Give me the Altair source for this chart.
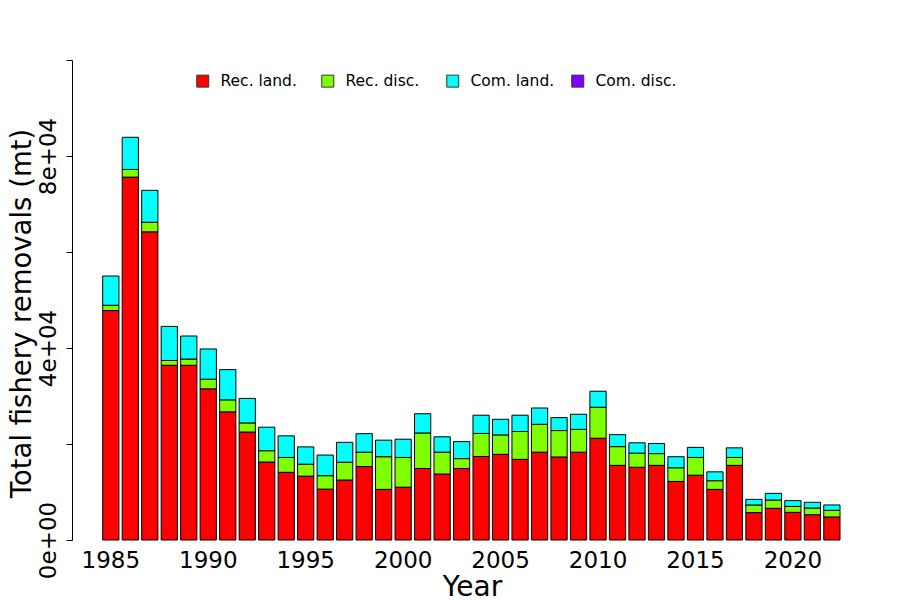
import altair as alt
import pandas as pd

years = list(range(1985, 2023))
series_names = ["Rec. land.", "Rec. disc.", "Com. land.", "Com. disc."]
series_colors = ["#FF0000", "#80FF00", "#00FFFF", "#8000FF"]

# values in thousand mt
rec_land = [47.8, 75.6, 64.2, 36.4, 36.4, 31.5, 26.7, 22.5, 16.25, 14.1,
            13.3, 10.6, 12.5, 15.3, 10.55, 11.0, 14.9, 13.75, 14.9, 17.4,
            17.85, 16.8, 18.3, 17.3, 18.3, 21.2, 15.55, 15.15, 15.55, 12.2,
            13.5, 10.55, 15.55, 5.7, 6.6, 5.76, 5.27, 4.8]
rec_disc = [1.1, 1.6, 2.0, 1.0, 1.3, 2.0, 2.5, 1.9, 2.35, 3.1,
            2.5, 2.8, 3.7, 3.0, 6.8, 6.2, 7.4, 4.55, 2.05, 4.8,
            4.05, 5.8, 5.8, 5.5, 4.75, 6.45, 3.9, 2.95, 2.45, 2.85,
            3.7, 1.8, 1.65, 1.6, 1.73, 1.24, 1.4, 1.38]
com_land = [6.1, 6.7, 6.65, 7.1, 4.8, 6.3, 6.3, 5.1, 4.9, 4.5,
            3.6, 4.3, 4.15, 3.85, 3.45, 3.8, 4.0, 3.2, 3.55, 3.8,
            3.25, 3.4, 3.4, 2.7, 3.15, 3.35, 2.5, 2.15, 2.1, 2.3,
            2.1, 1.85, 2.0, 1.17, 1.39, 1.2, 1.18, 1.12]
com_disc = [0.0] * len(years)

x_tick_years = [1985, 1990, 1995, 2000, 2005, 2010, 2015, 2020]
y_tick_values = [0, 20000, 40000, 60000, 80000, 100000]

rows = []
for k, (name, vals) in enumerate(zip(series_names, [rec_land, rec_disc, com_land, com_disc])):
    for yr, v in zip(years, vals):
        rows.append({"year": yr, "fleet": name, "ord": k, "value": v * 1000})
df = pd.DataFrame(rows)

FONT = "DejaVu Sans"

chart = (
    alt.Chart(df)
    .transform_filter("datum.value > 0")
    .mark_bar(stroke="black", strokeWidth=1)
    .encode(
        x=alt.X(
            "year:O",
            scale=alt.Scale(paddingInner=0.1667, paddingOuter=0, range=[30.7, 768.0]),
            axis=alt.Axis(
                values=x_tick_years, labelAngle=0, domain=False, ticks=False, tickSize=0,
                labelFontSize=23, labelPadding=27, labelBaseline="alphabetic",
                title="Year", titleFontSize=28, titleBaseline="alphabetic", titleY=55,
                titleX=400,
            ),
        ),
        y=alt.Y(
            "value:Q",
            stack="zero",
            scale=alt.Scale(domain=[0, 100000], nice=False, zero=True),
            axis=alt.Axis(
                values=y_tick_values, grid=False,
                labelExpr="datum.value == 0 ? '0e+00' : datum.value == 40000 ? '4e+04' : datum.value == 80000 ? '8e+04' : ''",
                labelAngle=270, labelAlign="center", labelBaseline="alphabetic",
                labelFontSize=23, labelPadding=11, tickSize=6,
                title="Total fishery removals (mt)", titleFontSize=27.5,
                titleAngle=270, titleAlign="center", titleBaseline="alphabetic",
                titleX=-42, titleY=253,
            ),
        ),
        color=alt.Color(
            "fleet:N",
            scale=alt.Scale(domain=series_names, range=series_colors),
            legend=alt.Legend(
                orient="none", legendX=123, legendY=13, direction="horizontal",
                columns=4, gridAlign="all", columnPadding=14, title=None,
                symbolType="square", symbolSize=144, symbolStrokeColor="#333333",
                symbolStrokeWidth=1, labelFontSize=15.5, labelOffset=10,
                labelFont=FONT, labelColor="black",
            ),
        ),
        order=alt.Order("ord:Q", sort="ascending"),
    )
    .properties(
        width=800, height=480,
        autosize=alt.AutoSizeParams(type="none"),
        padding={"left": 64, "top": 52, "right": 20, "bottom": 57},
    )
    .configure_view(stroke=None)
    .configure_axis(
        labelFont=FONT, titleFont=FONT, labelColor="black", titleColor="black",
        titleFontWeight="normal", domainColor="black", tickColor="black",
        domainWidth=1, tickWidth=1,
    )
)

chart.save("out.html", embed_options={"renderer": "svg", "actions": False})
